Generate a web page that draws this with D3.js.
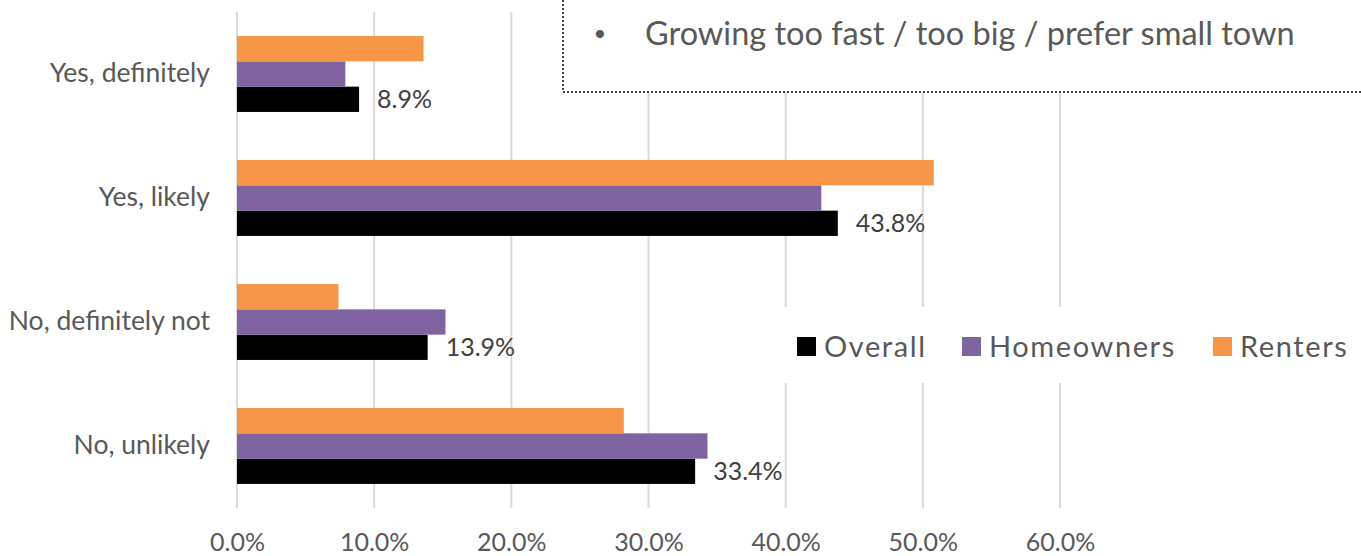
<!DOCTYPE html>
<html>
<head>
<meta charset="utf-8">
<script src="https://cdn.jsdelivr.net/npm/d3@7"></script>
<style>
  body{margin:0;background:#fff;}
  text{font-family:Lato,"Open Sans",sans-serif;}
</style>
</head>
<body>
<div id="chart"></div>
<script>
// categories top to bottom
var categories = ["Yes, definitely","Yes, likely","No, definitely not","No, unlikely"];
var seriesNames = ["Overall","Homeowners","Renters"];
var overall    = [8.9, 43.8, 13.9, 33.4];
var homeowners = [7.9, 42.6, 15.2, 34.3];
var renters    = [13.6, 50.8, 7.4, 28.2];
var xTicks = [0,10,20,30,40,50,60];
var noteText = "Growing too fast / too big / prefer small town";

var colors = {"Overall":"#000000","Homeowners":"#8064A2","Renters":"#F79646"};

var width=1361, height=556;
var plotLeft=237, plotRight=1060, plotTop=12, plotBottom=508;

var svg = d3.select("#chart")
    .append("svg")
    .attr("width",width)
    .attr("height",height);

var xScale = d3.scaleLinear()
    .domain([0,60])
    .range([plotLeft,plotRight]);

var yScale = d3.scaleBand()
    .domain(categories)
    .range([plotTop,plotBottom])
    .paddingInner(0.388)
    .paddingOuter(0.194);

// renters on top, overall at the bottom of each group
var subScale = d3.scaleBand()
    .domain(["Renters","Homeowners","Overall"])
    .range([0,yScale.bandwidth()]);

// gridlines
svg.append("g")
    .attr("stroke","#d9d9d9")
    .attr("stroke-width",2)
    .selectAll("line")
    .data(xTicks)
    .enter()
    .append("line")
    .attr("x1",d=>xScale(d))
    .attr("x2",d=>xScale(d))
    .attr("y1",plotTop)
    .attr("y2",plotBottom);

// x tick labels
var xAxis = d3.axisBottom(xScale)
    .tickValues(xTicks)
    .tickSize(0)
    .tickPadding(0)
    .tickFormat(d=>d.toFixed(1)+"%");
var gx = svg.append("g")
    .attr("transform","translate(0,"+(plotBottom+43)+")")
    .call(xAxis);
gx.select(".domain").remove();
gx.selectAll("text")
    .attr("dy",0)
    .attr("font-size",25)
    .attr("fill","#595959")
    .style("font-family","Lato, sans-serif");

// category labels
var yAxis = d3.axisLeft(yScale).tickSize(0).tickPadding(27);
var gy = svg.append("g")
    .attr("transform","translate("+plotLeft+",0)")
    .call(yAxis);
gy.select(".domain").remove();
gy.selectAll("text")
    .attr("font-size",26.5)
    .attr("fill","#595959")
    .style("font-family","Lato, sans-serif");

var rows = categories.map(function(c,i){
  return {cat:c, Overall:overall[i], Homeowners:homeowners[i], Renters:renters[i]};
});

var groups = svg.append("g")
    .selectAll("g")
    .data(rows)
    .enter()
    .append("g")
    .attr("transform",d=>"translate(0,"+yScale(d.cat)+")");

groups.selectAll("rect")
    .data(d=>seriesNames.map(s=>({s:s,v:d[s]})))
    .enter()
    .append("rect")
    .attr("x",xScale(0))
    .attr("y",d=>subScale(d.s))
    .attr("width",d=>xScale(d.v)-xScale(0))
    .attr("height",subScale.bandwidth())
    .attr("fill",d=>colors[d.s]);

// data labels on Overall
groups.append("text")
    .attr("x",d=>xScale(d.Overall)+18)
    .attr("y",subScale("Overall")+subScale.bandwidth()/2)
    .attr("dy","0.36em")
    .attr("font-size",25)
    .attr("fill","#404040")
    .text(d=>d.Overall.toFixed(1)+"%");

// legend
var legend = svg.append("g");
legend.append("rect")
    .attr("x",780).attr("y",307)
    .attr("width",width-780).attr("height",76)
    .attr("fill","#fff");
var legendX = [797,962,1213];
var legendItems = legend.selectAll("g")
    .data(seriesNames)
    .enter()
    .append("g")
    .attr("transform",(d,i)=>"translate("+legendX[i]+",337)");
legendItems.append("rect")
    .attr("width",19).attr("height",19)
    .attr("fill",d=>colors[d]);
legendItems.append("text")
    .attr("x",27)
    .attr("y",10)
    .attr("dy","0.36em")
    .attr("font-size",29)
    .attr("letter-spacing",1.6)
    .attr("fill","#595959")
    .text(d=>d);

// note box
var note = svg.append("g");
note.append("rect")
    .attr("x",563).attr("y",-10)
    .attr("width",width-563+10).attr("height",102)
    .attr("fill","#fff");
note.append("path")
    .attr("d","M563,0V92H"+width)
    .attr("fill","none")
    .attr("stroke","#404040")
    .attr("stroke-width",2)
    .attr("stroke-dasharray","2,2");
note.append("text")
    .attr("x",600).attr("y",33)
    .attr("dy","0.36em")
    .attr("text-anchor","middle")
    .attr("font-size",22)
    .attr("fill","#595959")
    .text("•");
note.append("text")
    .attr("x",645).attr("y",33)
    .attr("dy","0.36em")
    .attr("font-size",32.5)
    .attr("fill","#595959")
    .text(noteText);
</script>
</body>
</html>
